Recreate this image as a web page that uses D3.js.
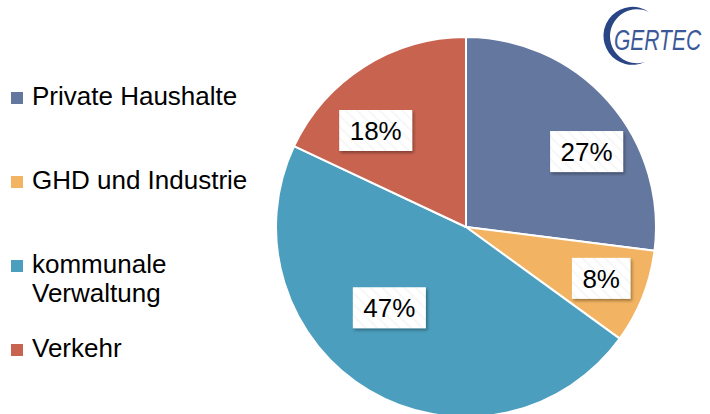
<!DOCTYPE html>
<html>
<head>
<meta charset="utf-8">
<script src="https://cdn.jsdelivr.net/npm/d3@7"></script>
<style>
  body { margin: 0; background: #fff; }
  svg { display: block; font-family: "Liberation Sans", Arial, sans-serif; }
</style>
</head>
<body>
<svg id="chart" width="710" height="414"></svg>
<script>
// data
var categories = ['Private Haushalte', 'GHD und Industrie', 'kommunale Verwaltung', 'Verkehr'];
var shares = [27, 8, 47, 18];
var legendLines = [['Private Haushalte'], ['GHD und Industrie'], ['kommunale', 'Verwaltung'], ['Verkehr']];
var colors = ['#64779f', '#f2b462', '#4b9ebd', '#c8634f'];

var width = 710, height = 414;
var cx = 466, cy = 227, radius = 190;

var svg = d3.select('#chart');
var defs = svg.append('defs');

// shadow for the label boxes
var shadow = defs.append('filter').attr('id', 'shadow')
    .attr('x', '-20%').attr('y', '-20%').attr('width', '150%').attr('height', '160%');
shadow.append('feDropShadow')
    .attr('dx', 1.5).attr('dy', 2).attr('stdDeviation', 1.8)
    .attr('flood-color', '#000').attr('flood-opacity', 0.35);

// faint stripes inside the label boxes
var stripes = defs.append('pattern').attr('id', 'stripes')
    .attr('width', 8).attr('height', 8)
    .attr('patternUnits', 'userSpaceOnUse')
    .attr('patternTransform', 'rotate(-45)');
stripes.append('rect').attr('width', 8).attr('height', 8).attr('fill', '#fff');
stripes.append('rect').attr('width', 2).attr('height', 8).attr('fill', '#f7f7f7');

var color = d3.scaleOrdinal().domain(categories).range(colors);

var pie = d3.pie().sort(null).value(function(d){ return d.value; });
var arcs = pie(categories.map(function(c, i){ return {name: c, value: shares[i]}; }));

var arc = d3.arc().innerRadius(0).outerRadius(radius);
var labelArc = d3.arc().innerRadius(radius * 0.72).outerRadius(radius * 0.72);

var g = svg.append('g').attr('transform', 'translate(' + cx + ',' + cy + ')');

g.selectAll('path.slice')
    .data(arcs)
    .enter()
    .append('path')
        .attr('class', 'slice')
        .attr('d', arc)
        .attr('fill', function(d){ return color(d.data.name); })
        .attr('stroke', '#fff')
        .attr('stroke-width', 2)
        .attr('stroke-linejoin', 'round');

// excel "best fit" nudges for the data labels
var nudge = {
    'Private Haushalte': [18, 15],
    'GHD und Industrie': [8, 1],
    'kommunale Verwaltung': [-7, -37],
    'Verkehr': [-17, 19]
};

var labelFont = 26;
var labels = g.selectAll('g.label')
    .data(arcs)
    .enter()
    .append('g')
        .attr('class', 'label')
        .attr('transform', function(d){
            var c = labelArc.centroid(d);
            var n = nudge[d.data.name];
            return 'translate(' + (c[0] + n[0]) + ',' + (c[1] + n[1]) + ')';
        });

labels.each(function(d){
    var lg = d3.select(this);
    var txt = lg.append('text')
        .attr('text-anchor', 'middle')
        .attr('y', labelFont * 0.36)
        .style('font-size', labelFont + 'px')
        .attr('fill', '#000')
        .text(Math.round(d.data.value) + '%');
    var w = txt.node().getComputedTextLength() + 21;
    var h = 41;
    lg.insert('rect', 'text')
        .attr('x', -w / 2).attr('y', -h / 2)
        .attr('width', w).attr('height', h)
        .attr('fill', 'url(#stripes)')
        .attr('filter', 'url(#shadow)');
});

// legend
var legendY = d3.scaleOrdinal().domain(categories).range([105, 189, 273, 357]);
var legendFont = 26;
var legend = svg.append('g').attr('class', 'legend');
categories.forEach(function(c, i){
    var y0 = legendY(c);
    legend.append('rect')
        .attr('x', 11).attr('y', y0 - 13)
        .attr('width', 12).attr('height', 12)
        .attr('fill', color(c));
    var t = legend.append('text')
        .attr('x', 32).attr('y', y0)
        .style('font-size', legendFont + 'px')
        .attr('fill', '#000');
    legendLines[i].forEach(function(line, j){
        t.append('tspan')
            .attr('x', 32)
            .attr('dy', j === 0 ? 0 : 29)
            .text(line);
    });
});

// logo (condensed text: small font stretched vertically)
var logo = svg.append('g').attr('class', 'logo');
logo.append('path')
    .attr('d', 'M 649,12 A 29 29 0 1 0 645,62 A 27 27 0 1 1 649,12 Z')
    .attr('fill', '#2a4585');
logo.append('text')
    .attr('transform', 'translate(614,50) scale(1,1.4)')
    .style('font-size', '21px')
    .style('font-style', 'italic')
    .attr('fill', '#3b5998')
    .text('GERTEC');
</script>
</body>
</html>
